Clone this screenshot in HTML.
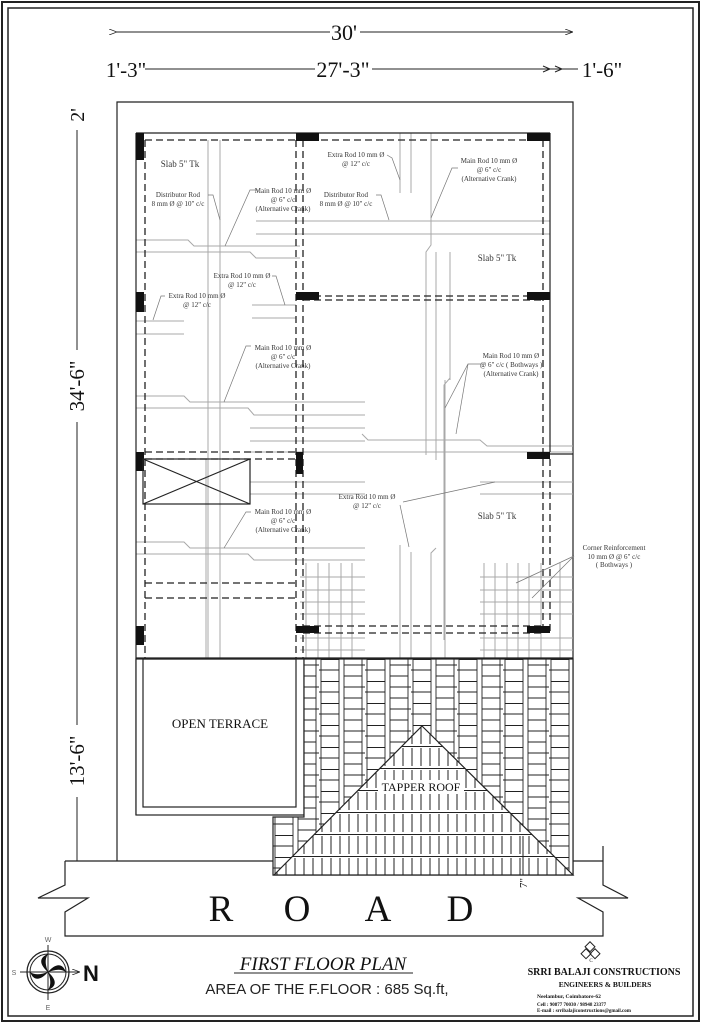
<!DOCTYPE html>
<html><head><meta charset="utf-8"><style>
html,body{margin:0;padding:0;background:#fff;}
svg{display:block;}
.lb{font-family:"Liberation Serif",serif;font-size:7px;fill:#333;text-anchor:middle;}
.g{stroke:#a8a8a8;stroke-width:1;fill:none;}
.dm{font-family:"Liberation Serif",serif;fill:#111;}
</style></head><body>
<svg width="701" height="1024" viewBox="0 0 701 1024" xmlns="http://www.w3.org/2000/svg">
<defs>
<pattern id="tiles" x="273" y="659" width="46" height="22" patternUnits="userSpaceOnUse">
<rect width="46" height="22" fill="#fff"/>
<g stroke="#222" stroke-width="0.9">
<line x1="2" y1="0" x2="2" y2="22"/><line x1="20" y1="0" x2="20" y2="22"/>
<line x1="2" y1="0.5" x2="20" y2="0.5"/><line x1="0" y1="11" x2="20" y2="11"/>
<line x1="25" y1="0" x2="25" y2="22"/><line x1="43" y1="0" x2="43" y2="22"/>
<line x1="25" y1="6" x2="46" y2="6"/><line x1="25" y1="17" x2="43" y2="17"/>
</g>
</pattern>
<pattern id="tri" x="273" y="659" width="9" height="22" patternUnits="userSpaceOnUse">
<rect width="9" height="22" fill="#fff"/>
<line x1="0" y1="21.5" x2="9" y2="21.5" stroke="#222"/>
<line x1="4" y1="1" x2="4" y2="19" stroke="#222"/>
</pattern>
<marker id="ar" markerWidth="8" markerHeight="6" refX="8" refY="3" orient="auto"><path d="M0,0 L8,3 L0,6" fill="none" stroke="#222" stroke-width="0.8"/></marker>
</defs>

<rect x="2" y="2" width="697" height="1019" fill="none" stroke="#222" stroke-width="2"/>
<rect x="8" y="8" width="685" height="1008" fill="none" stroke="#222" stroke-width="1.5"/>

<line x1="117" y1="32" x2="330" y2="32" stroke="#222" marker-start="url(#ar)"/>
<line x1="360" y1="32" x2="573" y2="32" stroke="#222" marker-end="url(#ar)"/>
<text x="344" y="40" class="dm" font-size="22" text-anchor="middle">30'</text>
<line x1="145" y1="69" x2="315" y2="69" stroke="#222"/>
<line x1="372" y1="69" x2="578" y2="69" stroke="#222"/>
<path d="M543,66 l7,3 l-7,3 M555,66 l7,3 l-7,3" fill="none" stroke="#222"/>
<text x="126" y="77" class="dm" font-size="21" text-anchor="middle">1'-3"</text>
<text x="343" y="77" class="dm" font-size="22" text-anchor="middle">27'-3"</text>
<text x="602" y="77" class="dm" font-size="21" text-anchor="middle">1'-6"</text>

<line x1="77" y1="130" x2="77" y2="861" stroke="#222"/>
<text transform="translate(84,115) rotate(-90)" class="dm" font-size="20" text-anchor="middle">2'</text>
<rect x="68" y="350" width="20" height="72" fill="#fff"/>
<text transform="translate(84,386) rotate(-90)" class="dm" font-size="21" text-anchor="middle">34'-6"</text>
<rect x="68" y="725" width="20" height="72" fill="#fff"/>
<text transform="translate(84,761) rotate(-90)" class="dm" font-size="21" text-anchor="middle">13'-6"</text>

<path d="M117,861 L117,102 L573,102 L573,875" fill="none" stroke="#222" stroke-width="1.2"/>

<g class="g">
<line x1="208" y1="140" x2="208" y2="658"/><line x1="220" y1="140" x2="220" y2="658"/>
<line x1="400" y1="133" x2="400" y2="193"/><line x1="411" y1="133" x2="411" y2="193"/>
<path d="M431,133 V245 L426,252 V455"/>
<line x1="436" y1="252" x2="436" y2="460"/><line x1="450" y1="252" x2="450" y2="380"/>
<path d="M450,380 V378 L444,385 V640"/>
<line x1="256" y1="221" x2="550" y2="221"/><line x1="256" y1="234" x2="550" y2="234"/>
<path d="M136,240 H188 L194,246 H300"/>
<path d="M136,252 H250 L256,258 H300"/>
<path d="M136,321 H184"/><path d="M136,334 H184"/>
<path d="M252,305 H296"/><path d="M252,318 H296"/>
<path d="M136,396 H184 L190,402 H365"/><path d="M136,408 H248 L254,415 H365"/>
<path d="M250,428 H365"/><path d="M250,441 H365"/>
<path d="M362,434 L368,440 H480 L487,446 H573"/>
<path d="M250,452 H573"/>
<path d="M250,482 H365"/><path d="M250,494 H365"/>
<path d="M480,482 H573"/><path d="M480,494 H573"/>
<path d="M136,542 H184 L190,548 H365"/><path d="M136,554 H248 L254,560 H365"/>
<path d="M400,545 V658"/><path d="M411,552 V658"/>
<path d="M436,548 L431,553 V658"/><path d="M445,380 V658"/>
<path d="M206,459 V658"/>
</g>
<g class="g">
<line x1="306" y1="563" x2="306" y2="658"/><line x1="318" y1="563" x2="318" y2="658"/>
<line x1="329" y1="563" x2="329" y2="658"/><line x1="341" y1="563" x2="341" y2="658"/>
<line x1="352" y1="563" x2="352" y2="658"/>
<line x1="300" y1="577" x2="365" y2="577"/><line x1="300" y1="590" x2="365" y2="590"/>
<line x1="300" y1="602" x2="365" y2="602"/><line x1="300" y1="614" x2="365" y2="614"/>
<line x1="300" y1="638" x2="365" y2="638"/><line x1="300" y1="650" x2="365" y2="650"/>
<line x1="484" y1="563" x2="484" y2="658"/><line x1="495" y1="563" x2="495" y2="658"/>
<line x1="507" y1="563" x2="507" y2="658"/><line x1="518" y1="563" x2="518" y2="658"/>
<line x1="529" y1="563" x2="529" y2="658"/><line x1="541" y1="563" x2="541" y2="658"/>
<line x1="560" y1="563" x2="560" y2="658"/>
<line x1="480" y1="577" x2="573" y2="577"/><line x1="480" y1="590" x2="573" y2="590"/>
<line x1="480" y1="602" x2="573" y2="602"/><line x1="480" y1="614" x2="573" y2="614"/>
<line x1="480" y1="638" x2="573" y2="638"/><line x1="480" y1="650" x2="573" y2="650"/>
</g>

<g stroke="#222" fill="none" stroke-width="1.2">
<line x1="136" y1="133" x2="550" y2="133"/>
<line x1="136" y1="133" x2="136" y2="815"/>
<line x1="550" y1="133" x2="550" y2="452"/>
<line x1="550" y1="454" x2="573" y2="454"/>
<line x1="136" y1="658" x2="573" y2="658"/>
</g>
<g stroke="#222" fill="none" stroke-width="1.3" stroke-dasharray="7,4">
<line x1="145" y1="140" x2="543" y2="140"/>
<line x1="145" y1="140" x2="145" y2="658"/>
<line x1="296" y1="140" x2="296" y2="658"/><line x1="303" y1="140" x2="303" y2="658"/>
<line x1="543" y1="140" x2="543" y2="633"/><line x1="550" y1="459" x2="550" y2="633"/>
<line x1="303" y1="296" x2="543" y2="296"/><line x1="303" y1="300" x2="543" y2="300"/>
<line x1="145" y1="452" x2="296" y2="452"/><line x1="145" y1="459" x2="296" y2="459"/>
<line x1="145" y1="583" x2="296" y2="583"/><line x1="145" y1="598" x2="296" y2="598"/>
<line x1="303" y1="626" x2="543" y2="626"/><line x1="303" y1="633" x2="543" y2="633"/>
</g>
<g fill="#111">
<rect x="136" y="133" width="8" height="27"/>
<rect x="296" y="133" width="23" height="8"/>
<rect x="527" y="133" width="23" height="8"/>
<rect x="136" y="292" width="8" height="20"/>
<rect x="296" y="292" width="23" height="8"/>
<rect x="527" y="292" width="23" height="8"/>
<rect x="136" y="452" width="8" height="19"/>
<rect x="296" y="452" width="7" height="22"/>
<rect x="527" y="452" width="23" height="7"/>
<rect x="136" y="626" width="8" height="19"/>
<rect x="296" y="626" width="23" height="7"/>
<rect x="527" y="626" width="23" height="7"/>
<rect x="136" y="797" width="7" height="18"/>
</g>
<g stroke="#222" fill="none" stroke-width="1.2">
<rect x="143" y="459" width="107" height="45"/>
<line x1="143" y1="459" x2="250" y2="504"/><line x1="250" y1="459" x2="143" y2="504"/>
</g>

<g class="lb">
<text x="180" y="167" font-size="9">Slab 5" Tk</text>
<text x="178" y="197">Distributor Rod</text><text x="178" y="206">8 mm Ø @ 10" c/c</text>
<text x="283" y="193">Main Rod 10 mm Ø</text><text x="283" y="202">@ 6" c/c</text><text x="283" y="211">(Alternative Crank)</text>
<text x="346" y="197">Distributor Rod</text><text x="346" y="206">8 mm Ø @ 10" c/c</text>
<text x="356" y="157">Extra Rod 10 mm Ø</text><text x="356" y="166">@ 12" c/c</text>
<text x="489" y="163">Main Rod 10 mm Ø</text><text x="489" y="172">@ 6" c/c</text><text x="489" y="181">(Alternative Crank)</text>
<text x="497" y="261" font-size="9">Slab 5" Tk</text>
<text x="242" y="278">Extra Rod 10 mm Ø</text><text x="242" y="287">@ 12" c/c</text>
<text x="197" y="298">Extra Rod 10 mm Ø</text><text x="197" y="307">@ 12" c/c</text>
<text x="283" y="350">Main Rod 10 mm Ø</text><text x="283" y="359">@ 6" c/c</text><text x="283" y="368">(Alternative Crank)</text>
<text x="511" y="358">Main Rod 10 mm Ø</text><text x="511" y="367">@ 6" c/c ( Bothways )</text><text x="511" y="376">(Alternative Crank)</text>
<text x="367" y="499">Extra Rod 10 mm Ø</text><text x="367" y="508">@ 12" c/c</text>
<text x="283" y="514">Main Rod 10 mm Ø</text><text x="283" y="523">@ 6" c/c</text><text x="283" y="532">(Alternative Crank)</text>
<text x="497" y="519" font-size="9">Slab 5" Tk</text>
<text x="614" y="550">Corner Reinforcement</text><text x="614" y="559">10 mm Ø @ 6" c/c</text><text x="614" y="567">( Bothways )</text>
</g>
<g stroke="#777" stroke-width="0.7" fill="none">
<path d="M208,195 L213,195 L220,220"/><path d="M258,190 L250,190 L225,246"/>
<path d="M376,195 L381,195 L389,220"/><path d="M387,155 L392,158 L400,180"/>
<path d="M458,168 L452,168 L431,218"/><path d="M272,276 L276,276 L285,305"/>
<path d="M165,296 L161,296 L153,320"/><path d="M251,346 L246,346 L224,402"/>
<path d="M485,364 L468,364 L445,408"/><path d="M468,364 L456,434"/>
<path d="M400,505 L409,547"/><path d="M403,502 L495,482"/>
<path d="M251,512 L246,512 L224,548"/>
<path d="M574,556 L516,583"/><path d="M574,556 L532,598"/>
</g>

<rect x="136" y="659" width="168" height="156" fill="#fff" stroke="#222" stroke-width="1.2"/>
<rect x="143" y="659" width="153" height="148" fill="none" stroke="#222" stroke-width="1.2"/>
<text x="220" y="728" class="dm" font-size="13" text-anchor="middle">OPEN TERRACE</text>

<path d="M304,659 H573 V875 H273 V817 H304 Z" fill="url(#tiles)" stroke="#222" stroke-width="1.2"/>
<path d="M422,726 L573,875 L274,875 Z" fill="url(#tri)" stroke="#222" stroke-width="1.2"/>
<rect x="378" y="780" width="86" height="14" fill="#fff"/>
<text x="421" y="791" class="dm" font-size="12" text-anchor="middle">TAPPER ROOF</text>
<line x1="523" y1="836" x2="523" y2="875" stroke="#222"/>
<text transform="translate(527,883) rotate(-90)" class="dm" font-size="11" text-anchor="middle">7"</text>

<g stroke="#222" fill="none" stroke-width="1.2">
<path d="M65,861 H273 M573,861 H603"/>
<path d="M65,861 V885 L38,898 H88 L65,912 V936 H603 V912 L578,898 H628 L603,885 V846"/>
</g>
<g class="dm" font-size="37" text-anchor="middle">
<text x="221" y="921">R</text><text x="297" y="921">O</text><text x="378" y="921">A</text><text x="460" y="921">D</text>
</g>

<g stroke="#222" fill="none">
<circle cx="48" cy="972" r="21" stroke-width="1.3"/>
<circle cx="48" cy="972" r="18"/>
<line x1="48" y1="945" x2="48" y2="1000"/><line x1="20" y1="972" x2="80" y2="972" marker-end="url(#ar)"/>
</g>
<g fill="#111">
<path d="M48,972 C40,965 38,958 48,954 C44,960 46,966 48,972Z"/>
<path d="M48,972 C55,964 62,962 66,972 C60,968 54,970 48,972Z"/>
<path d="M48,972 C56,979 58,986 48,990 C52,984 50,978 48,972Z"/>
<path d="M48,972 C41,980 34,982 30,972 C36,976 42,974 48,972Z"/>
</g>
<text x="48" y="942" font-family="Liberation Sans,sans-serif" font-size="7" fill="#666" text-anchor="middle">W</text>
<text x="48" y="1010" font-family="Liberation Sans,sans-serif" font-size="7" fill="#666" text-anchor="middle">E</text>
<text x="14" y="975" font-family="Liberation Sans,sans-serif" font-size="7" fill="#666" text-anchor="middle">S</text>
<text x="91" y="981" font-family="Liberation Sans,sans-serif" font-size="22" font-weight="bold" fill="#111" text-anchor="middle">N</text>

<text x="323" y="970" class="dm" font-size="19" font-style="italic" text-anchor="middle">FIRST FLOOR  PLAN</text>
<line x1="234" y1="973" x2="413" y2="973" stroke="#222" stroke-width="1"/>
<text x="327" y="994" font-family="Liberation Sans,sans-serif" font-size="15" fill="#222" text-anchor="middle">AREA OF THE F.FLOOR  :   685 Sq.ft,</text>

<g stroke="#222" fill="none" stroke-width="1">
<rect x="587" y="943" width="7" height="7" transform="rotate(45 590 946)"/>
<rect x="583" y="950" width="7" height="7" transform="rotate(45 586 953)"/>
<rect x="592" y="950" width="7" height="7" transform="rotate(45 595 953)"/>
</g>
<text x="591" y="962" class="dm" font-size="5" text-anchor="middle">C</text>
<text x="604" y="975" class="dm" font-size="10" font-weight="bold" text-anchor="middle">SRRI BALAJI CONSTRUCTIONS</text>
<text x="605" y="987" class="dm" font-size="7.5" font-weight="bold" text-anchor="middle">ENGINEERS &amp; BUILDERS</text>
<text x="537" y="998" class="dm" font-size="5.5" font-weight="bold">Neelambur, Coimbatore-62</text>
<text x="537" y="1006" class="dm" font-size="5" font-weight="bold">Cell : 90877 70030 / 98948 23377</text>
<text x="537" y="1012" class="dm" font-size="5" font-weight="bold">E-mail : srribalajiconstructions@gmail.com</text>
</svg>
</body></html>
